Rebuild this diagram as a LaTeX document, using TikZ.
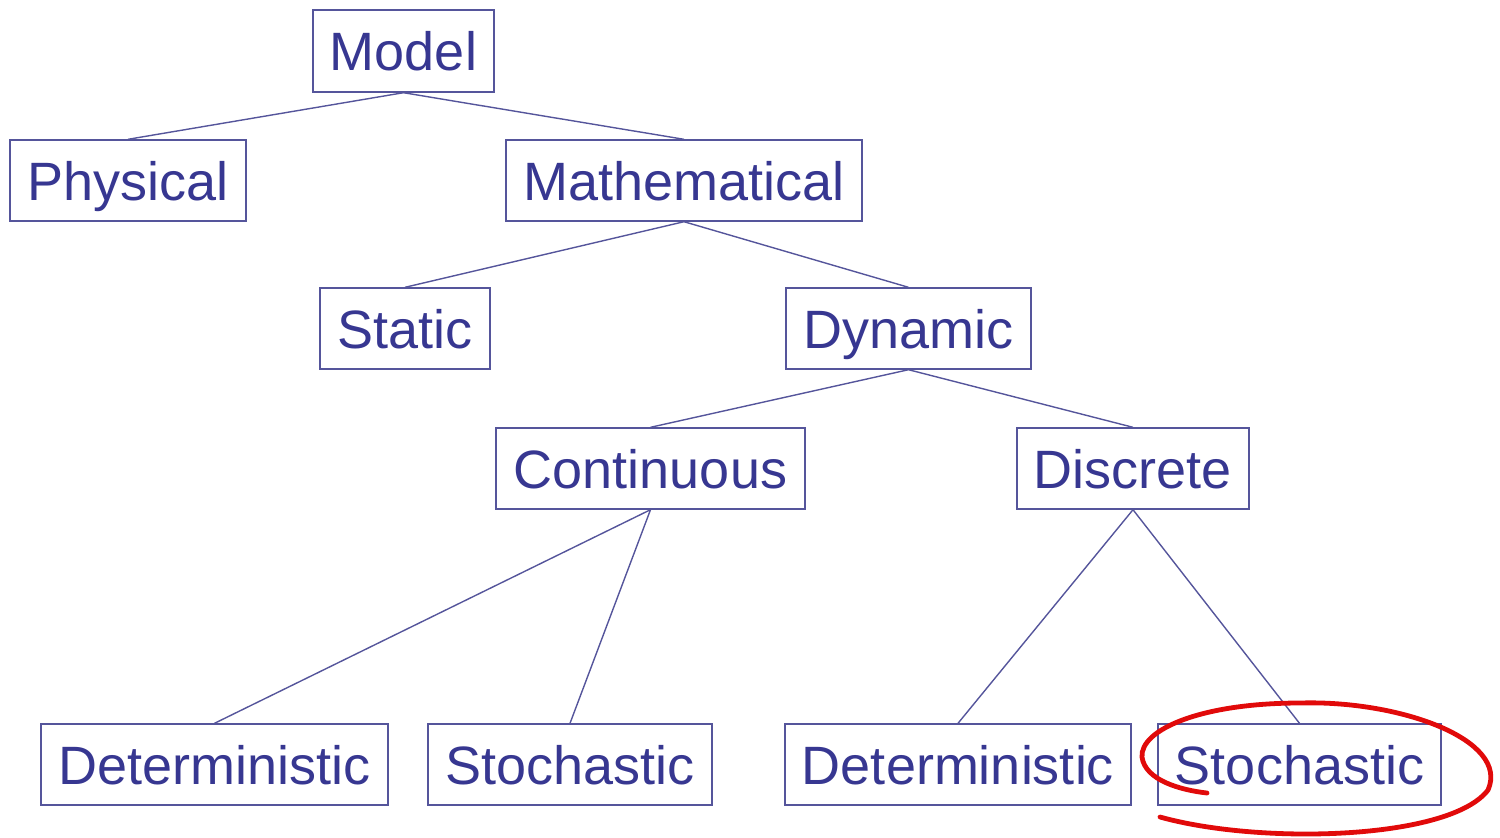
\documentclass[tikz,border=0pt]{standalone}
\usepackage{fontspec}
\setmainfont{Liberation Sans}
\definecolor{navy}{RGB}{55,55,145}
\definecolor{edge}{RGB}{85,85,155}
\definecolor{pen}{RGB}{225,10,10}
\begin{document}
\begin{tikzpicture}[x=0.5pt,y=-0.5pt,
  box/.style={draw=edge,line width=0.7pt,rectangle,inner sep=0pt,text=navy,
    font=\fontsize{27}{30}\selectfont,text height=19.5pt,text depth=0pt},
  link/.style={draw=edge,line width=0.7pt}]
\useasboundingbox (0,0) rectangle (1500,837);
\node[box,minimum width=90.5pt,minimum height=41pt] (model) at (403.5,51) {Model};
\node[box,minimum width=118pt,minimum height=40.5pt] (phys) at (128,180.5) {Physical};
\node[box,minimum width=178pt,minimum height=40.5pt] (math) at (684,180.5) {Mathematical};
\node[box,minimum width=85pt,minimum height=40.5pt] (static) at (405,328.5) {Static};
\node[box,minimum width=122.5pt,minimum height=40.5pt] (dyn) at (908.5,328.5) {Dynamic};
\node[box,minimum width=154.5pt,minimum height=40.5pt] (cont) at (650.5,468.5) {Continuous};
\node[box,minimum width=116pt,minimum height=40.5pt] (disc) at (1133,468.5) {Discrete};
\node[box,minimum width=173.5pt,minimum height=40.5pt] (det1) at (214.5,764.5) {Deterministic};
\node[box,minimum width=142pt,minimum height=40.5pt] (sto1) at (570,764.5) {Stochastic};
\node[box,minimum width=173pt,minimum height=40.5pt] (det2) at (958,764.5) {Deterministic};
\node[box,minimum width=141.5pt,minimum height=40.5pt] (sto2) at (1299.5,764.5) {Stochastic};
\draw[link] (model.south) -- (phys.north);
\draw[link] (model.south) -- (math.north);
\draw[link] (math.south) -- (static.north);
\draw[link] (math.south) -- (dyn.north);
\draw[link] (dyn.south) -- (cont.north);
\draw[link] (dyn.south) -- (disc.north);
\draw[link] (cont.south) -- (det1.north);
\draw[link] (cont.south) -- (sto1.north);
\draw[link] (disc.south) -- (det2.north);
\draw[link] (disc.south) -- (sto2.north);
\draw[pen,line width=2.4pt,line cap=round] (1160,817) .. controls (1260,845) and (1450,840) .. (1488,790)
  .. controls (1510,740) and (1400,700) .. (1300,703)
  .. controls (1200,703) and (1140,730) .. (1142,757)
  .. controls (1145,780) and (1180,790) .. (1207,793);
\end{tikzpicture}
\end{document}
